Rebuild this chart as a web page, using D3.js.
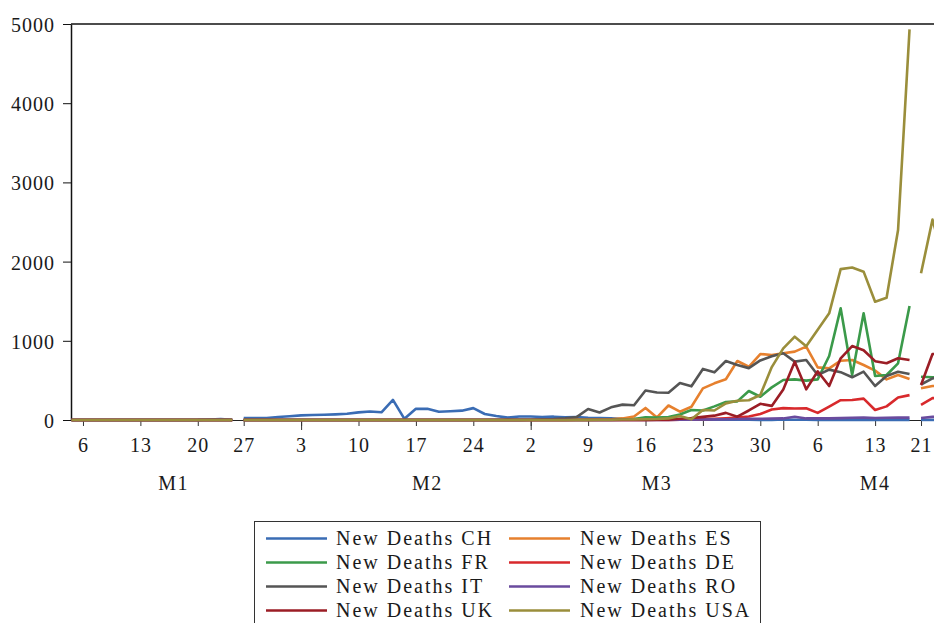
<!DOCTYPE html>
<html>
<head>
<meta charset="utf-8">
<script src="https://cdn.jsdelivr.net/npm/d3@7"></script>
<style>
  body { margin: 0; background: #fff; }
  svg text { font-family: "Liberation Serif", "Times New Roman", serif; fill: #1a1a1a; }
</style>
</head>
<body>
<svg id="chart" width="934" height="623"></svg>
<script>
// observation index ticks (irregular daily workfile, weekdays)
const xTickIdx = [1, 6, 11, 15, 20, 25, 30, 35, 40, 45, 50, 55, 60, 65, 70, 74];
const xTickLabels = ["6", "13", "20", "27", "3", "10", "17", "24", "2", "9", "16", "23", "30", "6", "13", "21"];
const monthStartIdx = [20, 40, 62];
const monthLabels = ["M1", "M2", "M3", "M4"];
const monthLabelIdx = [8.9, 31, 51, 70];
const yTicks = [0, 1000, 2000, 3000, 4000, 5000];
// the lines break between these observations
const segmentStarts = [0, 15, 74];

const deathsCH = [0, 0, 0, 0, 0, 0, 0, 0, 0, 0, 0,
  1, 6, 12, 2,
  25, 25, 26, 38, 48, 58, 63, 67, 71, 78, 96, 108, 97,
  254, 15, 142, 141, 104, 111, 118, 150, 76, 50, 30, 44, 44,
  38, 42, 33, 38, 28, 24, 20, 13, 11, 13,
  10, 8, 7, 7, 6, 5, 4, 4, 3, 1,
  1, 6, 4, 3, 2, 1, 2, 1, 0, 2,
  1, 1, 1, 1, 1, 1];
const deathsES = [0, 0, 0, 0, 0, 0, 0, 0, 0, 0, 0, 0, 0, 0, 0, 0, 0, 0, 0, 0, 0, 0,
  0, 0, 0, 0, 0, 0, 0, 0, 0, 0, 0, 0, 0, 0, 0, 0, 0, 0, 0, 0, 0,
  1, 3, 5, 8, 10, 20, 45, 152,
  32, 183, 105, 168, 400, 463, 514, 745, 672, 833,
  821, 842, 863, 926, 665, 652, 749, 758, 694, 623,
  513, 568, 518, 400, 429, 430];
const deathsFR = [0, 0, 0, 0, 0, 0, 0, 0, 0, 0, 0, 0, 0, 0, 0, 0, 0, 0, 0, 0, 0, 0, 0, 0,
  0, 0, 0, 0, 0, 0, 0, 0, 0, 0, 0, 0, 0, 0, 0, 0, 0, 0, 0, 0, 0, 0, 0, 0,
  5, 12, 35,
  30, 38, 70, 126, 120, 172, 228, 235, 366, 294,
  412, 505, 513, 497, 513, 808, 1410, 568, 1347, 556,
  568, 716, 1439, 547, 539, 540];
const deathsDE = [0, 0, 0, 0, 0, 0, 0, 0, 0, 0, 0, 0, 0, 0, 0, 0, 0, 0, 0, 0, 0, 0, 0, 0, 0, 0,
  0, 0, 0, 0, 0, 0, 0, 0, 0, 0, 0, 0, 0, 0, 0, 0, 0, 0, 0, 0, 0, 0, 0, 0, 0, 0, 0,
  3, 6, 10, 15, 22, 30, 45, 75,
  132, 150, 145, 148, 90, 170, 250, 252, 270, 126,
  172, 284, 314, 192, 276, 280];
const deathsIT = [0, 0, 0, 0, 0, 0, 0, 0, 0, 0, 0, 0, 0, 0, 0, 0, 0, 0, 0,
  0, 0, 0, 0, 0, 0, 0, 0, 0, 0, 0, 0, 0, 0, 0, 0, 0, 0, 0,
  1, 2, 4,
  8, 12, 22, 36, 139, 95, 160, 194, 186, 373,
  347, 345, 467, 425, 645, 602, 745, 694, 655, 752,
  805, 842, 737, 758, 568, 636, 604, 539, 610, 429,
  556, 610, 581, 448, 526, 530];
const deathsRO = [0, 0, 0, 0, 0, 0, 0, 0, 0, 0, 0, 0, 0, 0, 0, 0, 0, 0, 0, 0, 0, 0, 0, 0, 0,
  0, 0, 0, 0, 0, 0, 0, 0, 0, 0, 0, 0, 0, 0, 0, 0, 0, 0, 0, 0, 0, 0, 0, 0, 0,
  1, 1, 2, 3, 5, 6, 8, 10, 12, 14, 16,
  18, 20, 40, 20, 22, 20, 24, 28, 30, 26,
  28, 30, 30, 25, 40, 40];
const deathsUK = [0, 0, 0, 0, 0, 0, 0, 0, 0, 0, 0, 0, 0, 0, 0, 0, 0, 0, 0, 0, 0, 0, 0, 0, 0,
  0, 0, 0, 0, 0, 0, 0, 0, 0, 0, 0, 0, 0, 0, 0, 0, 0, 0, 0, 0, 0, 0, 0, 0,
  1, 2,
  3, 5, 15, 25, 40, 55, 90, 42, 120, 205,
  178, 385, 737, 387, 615, 429, 779, 934, 880, 743,
  716, 779, 758, 442, 833, 840];
const deathsUSA = [0, 0, 0, 0, 0, 0, 0, 0, 0, 0, 0, 0, 0, 0, 0, 0, 0, 0, 0, 0, 0, 0,
  0, 0, 0, 0, 0, 0, 0, 0, 0, 0, 0, 0, 0, 0, 0, 0, 0, 0, 0, 0, 0, 0,
  1, 2, 3, 4, 6, 8, 10,
  12, 20, 50, 8, 126, 120, 210, 244, 250, 316,
  668, 905, 1052, 930, 1140, 1347, 1905, 1925, 1873, 1494,
  1544, 2399, 4933, 1852, 2530, 2000];

const seriesNames = ["New Deaths CH", "New Deaths ES", "New Deaths FR", "New Deaths DE",
  "New Deaths IT", "New Deaths RO", "New Deaths UK", "New Deaths USA"];
const seriesValues = [deathsCH, deathsES, deathsFR, deathsDE, deathsIT, deathsRO, deathsUK, deathsUSA];
const seriesColors = ["#3a6cb4", "#e6802e", "#3b9a4a", "#d8292c", "#555555", "#6a4b9e", "#9b1d25", "#9a8e3b"];

const svg = d3.select("#chart");
const nObs = deathsCH.length;

const x = d3.scaleLinear()
  .domain([0, nObs - 1])
  .range([71.5, 71.5 + (nObs - 1) * 11.48]);
const y = d3.scaleLinear()
  .domain([0, 5000])
  .range([420, 24]);

// left axis
const yAxis = svg.append("g")
  .attr("transform", "translate(71,0)")
  .call(d3.axisLeft(y).tickValues(yTicks).tickSize(8).tickSizeOuter(0).tickPadding(8).tickFormat(d3.format("d")));
yAxis.select(".domain").attr("stroke", "#111").attr("stroke-width", 1.5);
yAxis.selectAll(".tick line").attr("stroke", "#111");
yAxis.selectAll(".tick text")
  .attr("dy", "0.37em")
  .style("font-size", "20px")
  .style("letter-spacing", "1px");

// top frame line
svg.append("line")
  .attr("x1", 71).attr("x2", 934)
  .attr("y1", y(5000)).attr("y2", y(5000))
  .attr("stroke", "#111")
  .attr("stroke-width", 1.5);

// bottom axis: day ticks
const xAxis = svg.append("g")
  .attr("transform", `translate(0,${y(0)})`)
  .call(d3.axisBottom(x).tickValues(xTickIdx).tickFormat((d, i) => xTickLabels[i])
    .tickSize(6).tickSizeOuter(0).tickPadding(12));
xAxis.select(".domain").attr("stroke", "#222");
xAxis.selectAll(".tick line").attr("stroke", "#333");
xAxis.selectAll(".tick text")
  .style("font-size", "20px")
  .style("letter-spacing", "1px");

// longer ticks at month starts
const monthAxis = svg.append("g")
  .attr("transform", `translate(0,${y(0)})`)
  .call(d3.axisBottom(x).tickValues(monthStartIdx).tickSize(10).tickFormat(""));
monthAxis.select(".domain").remove();
monthAxis.selectAll(".tick line").attr("stroke", "#333");

svg.selectAll(".month-label")
  .data(monthLabels)
  .enter()
  .append("text")
  .attr("class", "month-label")
  .attr("x", (d, i) => x(monthLabelIdx[i]))
  .attr("y", 490)
  .attr("text-anchor", "middle")
  .style("font-size", "20px")
  .style("letter-spacing", "1.5px")
  .text(d => d);

// lines, one path per unbroken segment
const segments = segmentStarts.map((s, k) =>
  d3.range(s, k + 1 < segmentStarts.length ? segmentStarts[k + 1] : nObs));

seriesValues.forEach((vals, si) => {
  const line = d3.line()
    .x(i => x(i))
    .y(i => y(vals[i]));
  segments.forEach(seg => {
    svg.append("path")
      .datum(seg)
      .attr("fill", "none")
      .attr("stroke", seriesColors[si])
      .attr("stroke-width", 2.6)
      .attr("stroke-linejoin", "round")
      .attr("d", line);
  });
});

// legend
svg.append("rect")
  .attr("x", 254.5).attr("y", 521.5)
  .attr("width", 506).attr("height", 130)
  .attr("fill", "#fff")
  .attr("stroke", "#333");

const legendLineX = [266, 509];
const legendTextX = [336, 580];
seriesNames.forEach((name, i) => {
  const col = i % 2;
  const row = Math.floor(i / 2);
  const ly = 538.5 + row * 24;
  svg.append("line")
    .attr("x1", legendLineX[col]).attr("x2", legendLineX[col] + 61)
    .attr("y1", ly).attr("y2", ly)
    .attr("stroke", seriesColors[i])
    .attr("stroke-width", 2.6);
  svg.append("text")
    .attr("x", legendTextX[col])
    .attr("y", ly + 6.5)
    .style("font-size", "20px")
    .style("letter-spacing", "2px")
    .text(name);
});
</script>
</body>
</html>
